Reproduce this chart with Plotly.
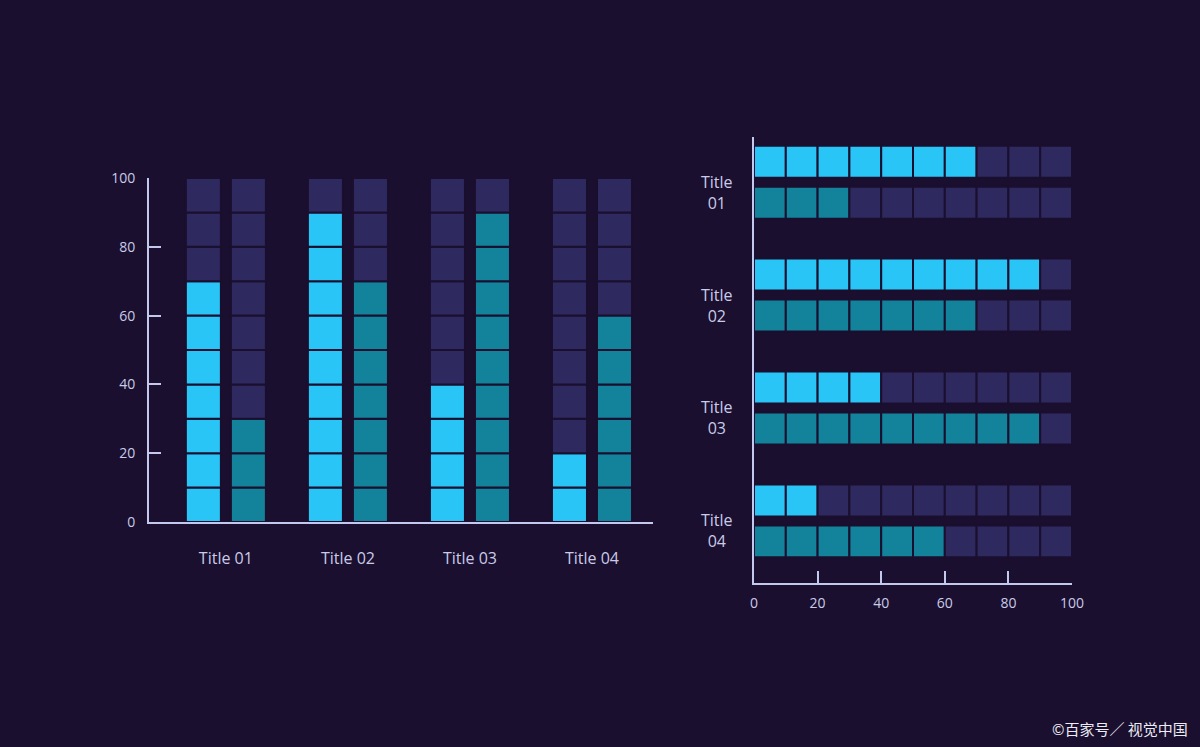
import plotly.graph_objects as go

categories = ["Title 01", "Title 02", "Title 03", "Title 04"]
series_a = [70, 90, 40, 20]   # light blue
series_b = [30, 70, 90, 60]   # teal
axis_ticks = [0, 20, 40, 60, 80, 100]
watermark = "©百家号／ 视觉中国"

BG = "#1a0f2e"
DARK = "#2e2a60"
LIGHT = "#29c5f6"
TEAL = "#13829b"
AXIS = "#c5c8ee"
TEXT = "#c9cbe8"
SEG = 10
NSEG = 10

W, H = 1200, 747

fig = go.Figure()
idx = list(range(len(categories)))

# left chart geometry (in category units)
L_unit = 122.0
L_w = 35 / L_unit
L_off = [(-22.5 - 17.5) / L_unit, (22.5 - 17.5) / L_unit]
# right chart geometry
R_unit = 113.0
R_w = 32 / R_unit
R_off = [(-20.5 - 16) / R_unit, (20.5 - 16) / R_unit]

for s, (vals, col) in enumerate([(series_a, LIGHT), (series_b, TEAL)]):
    for k in range(NSEG):
        colors = [col if (k + 1) * SEG <= v else DARK for v in vals]
        fig.add_trace(go.Bar(
            x=idx, y=[SEG] * len(vals), base=[k * SEG] * len(vals),
            width=L_w, offset=L_off[s],
            marker=dict(color=colors, line=dict(color=BG, width=2)),
            xaxis="x", yaxis="y", showlegend=False, hoverinfo="skip"))
        fig.add_trace(go.Bar(
            y=idx, x=[SEG] * len(vals), base=[k * SEG] * len(vals),
            orientation="h", width=R_w, offset=R_off[s],
            marker=dict(color=colors, line=dict(color=BG, width=2)),
            xaxis="x2", yaxis="y2", showlegend=False, hoverinfo="skip"))

font = dict(family="Open Sans, sans-serif", color=TEXT)

annotations = [
    dict(text=c.replace(" ", "<br>"), xref="paper", yref="y2",
         x=717 / W, y=i, xanchor="center", yanchor="middle", align="center",
         yshift=-10, showarrow=False,
         font=dict(family="Open Sans, sans-serif", size=16, color=TEXT))
    for i, c in enumerate(categories)
]
annotations.append(dict(text=watermark, xref="paper", yref="paper",
                        x=1190 / W, y=(H - 728) / H, xanchor="right", yanchor="middle",
                        showarrow=False,
                        font=dict(family="Noto Sans CJK SC, sans-serif", size=15, color="#ececf4")))

fig.update_layout(
    width=W, height=H, autosize=False,
    paper_bgcolor=BG, plot_bgcolor=BG,
    margin=dict(l=0, r=0, t=0, b=0, pad=0),
    barmode="overlay",
    font=font,
    xaxis=dict(domain=[149 / W, 653 / W], range=[-0.63, 3.5],
               tickvals=idx, ticktext=categories, showgrid=False, zeroline=False,
               showline=True, linecolor=AXIS, linewidth=2, ticks="",
               tickfont=dict(size=16, color=TEXT), ticklabelstandoff=21,
               anchor="y", fixedrange=True, automargin=False),
    yaxis=dict(domain=[(H - 522) / H, (H - 178) / H], range=[0, 100],
               tickvals=axis_ticks, showgrid=False, zeroline=False,
               showline=True, linecolor=AXIS, linewidth=2,
               ticks="inside", ticklen=12, tickcolor=AXIS, tickwidth=2,
               tickfont=dict(size=14, color=TEXT), ticklabelstandoff=9,
               anchor="x", fixedrange=True, automargin=False),
    xaxis2=dict(domain=[754 / W, 1072 / W], range=[0, 100],
                tickvals=axis_ticks, showgrid=False, zeroline=False,
                showline=True, linecolor=AXIS, linewidth=2,
                ticks="inside", ticklen=12, tickcolor=AXIS, tickwidth=2,
                tickfont=dict(size=14, color=TEXT), ticklabelstandoff=6,
                anchor="y2", fixedrange=True, automargin=False),
    yaxis2=dict(domain=[(H - 583) / H, (H - 137) / H], range=[3.55, -0.4],
                tickvals=idx, showticklabels=False,
                showgrid=False, zeroline=False,
                showline=True, linecolor=AXIS, linewidth=2, ticks="",
                anchor="x2", fixedrange=True, automargin=False),
    annotations=annotations,
)

fig.write_html(
    "out.html",
    config={"displayModeBar": False, "responsive": False},
    post_script="document.body.style.margin='0';document.body.style.overflow='hidden';document.body.style.background='%s';" % BG,
)
